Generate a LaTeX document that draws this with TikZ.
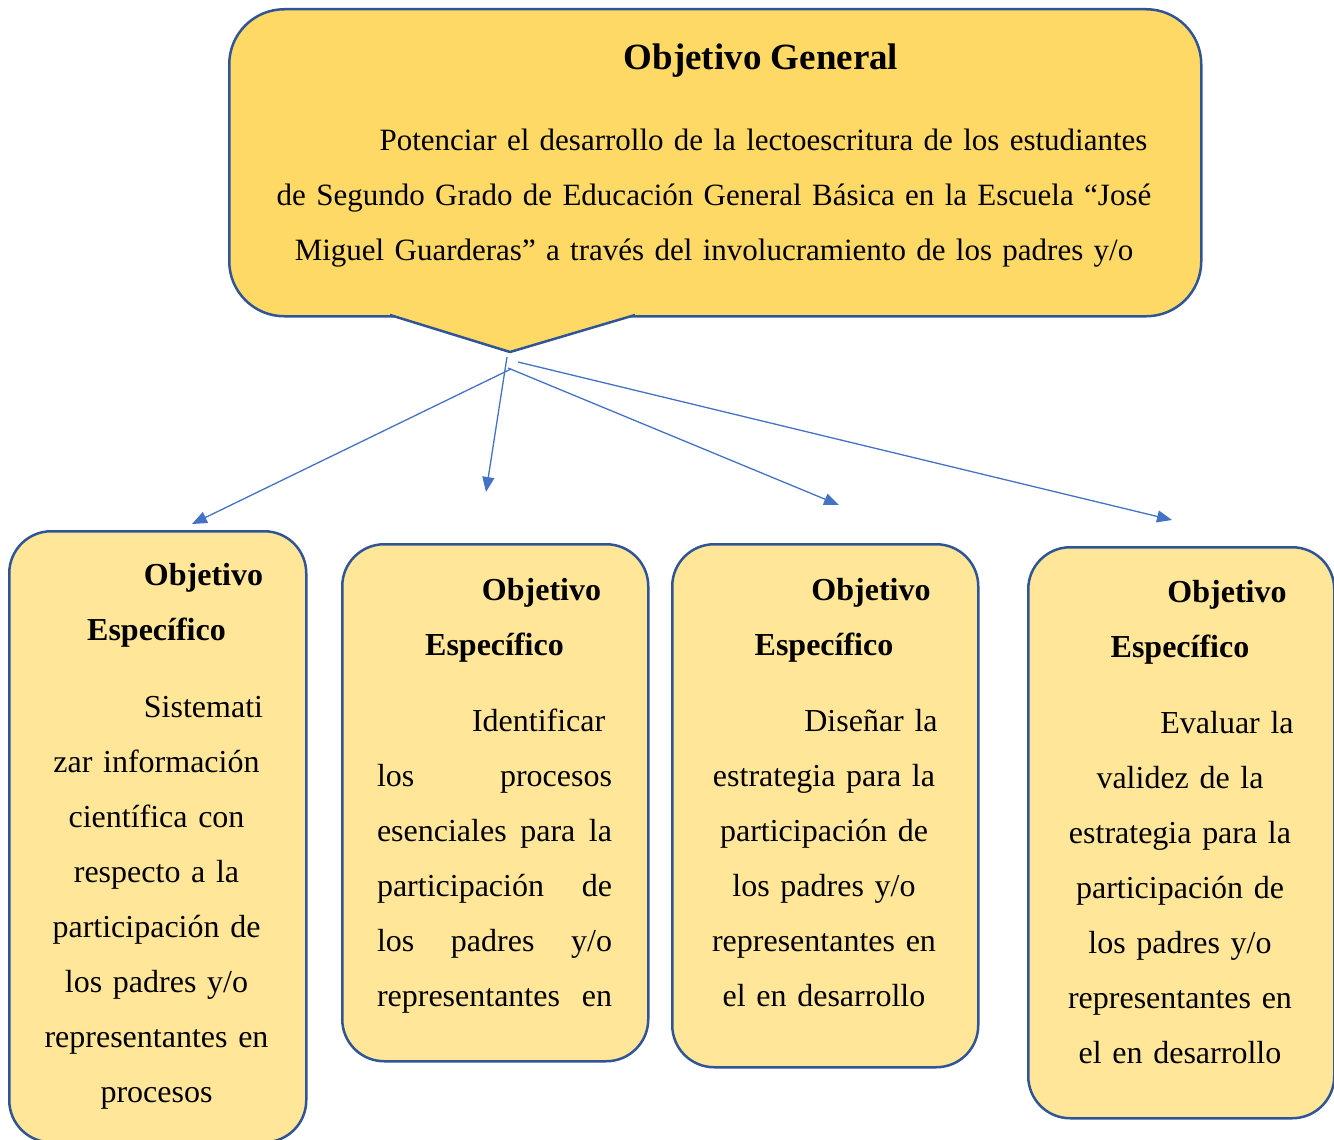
\documentclass[tikz,border=0pt]{standalone}
\usepackage{fontspec}
\setmainfont{Liberation Serif}
\usetikzlibrary{arrows.meta}
\definecolor{goldfill}{HTML}{FFD966}
\definecolor{lightgold}{HTML}{FFE699}
\definecolor{borderblue}{HTML}{2F5597}
\definecolor{arrowblue}{HTML}{4472C4}
\newcommand{\jline}[1]{\leavevmode\hbox to 235pt{#1}}
\begin{document}
\begin{tikzpicture}[x=1pt,y=-1pt,
  callout/.style={draw=borderblue, fill=goldfill, line width=2.5pt, rounded corners=55pt, inner sep=0pt, anchor=north west},
  specbox/.style={draw=borderblue, fill=lightgold, line width=2.5pt, rounded corners=42pt, inner sep=0pt, anchor=north west},
  bodytext/.style={font=\fontsize{32}{55}\selectfont, inner sep=0pt, anchor=base, align=center},
  gentext/.style={font=\fontsize{31}{55}\selectfont, inner sep=0pt, anchor=base, align=center},
  titletext/.style={font=\fontsize{37}{44}\selectfont\bfseries, inner sep=0pt, anchor=base},
  link/.style={draw=arrowblue, line width=1.3pt, -{Triangle[length=15pt,width=12pt]}}
]
\useasboundingbox (0,0) rectangle (1334,1140);

% general objective callout
\node[callout, minimum width=972pt, minimum height=307pt] (gen) at (228,8) {};
\fill[goldfill] (389,312) -- (636,312) -- (636,315) -- (510,352) -- (389,315) -- cycle;
\draw[borderblue, line width=2.5pt, line join=round] (390,315) -- (510,352) -- (635,315);
\node[titletext] (gtitle) at (761,70) {Objetivo General};
\node[gentext, text width=1000pt] (gbody) at (714,150) {\hspace*{99pt}Potenciar el desarrollo de la lectoescritura de los estudiantes\\
de Segundo Grado de Educación General Básica en la Escuela “José\\
Miguel Guarderas” a través del involucramiento de los padres y/o};

% specific objective boxes
\node[specbox, minimum width=297pt, minimum height=611pt] (b1) at (8,530) {};
\node[specbox, minimum width=306pt, minimum height=517pt] (b2) at (341,543) {};
\node[specbox, minimum width=306pt, minimum height=523pt] (b3) at (671,543) {};
\node[specbox, minimum width=306pt, minimum height=571pt] (b4) at (1027,546) {};

\node[bodytext, text width=290pt] (t1) at (156.5,585) {\hspace*{94pt}\textbf{Objetivo}\\
\textbf{Específico}\\[22pt]
\hspace*{94pt}Sistemati\\
zar información\\
científica con\\
respecto a la\\
participación de\\
los padres y/o\\
representantes en\\
procesos};

\node[bodytext, text width=235pt] (t2) at (494.5,600) {\hspace*{94pt}\textbf{Objetivo}\\
\textbf{Específico}\\[21pt]
\jline{\hspace*{95pt}Identificar\hfil}\\
\jline{los\hfill procesos}\\
\jline{esenciales\hfill para\hfill la}\\
\jline{participación\hfill de}\\
\jline{los\hfill padres\hfill y/o}\\
\jline{representantes\hfill en}};

\node[bodytext, text width=290pt] (t3) at (824,600) {\hspace*{94pt}\textbf{Objetivo}\\
\textbf{Específico}\\[21pt]
\hspace*{94pt}Diseñar la\\
estrategia para la\\
participación de\\
los padres y/o\\
representantes en\\
el en desarrollo};

\node[bodytext, text width=290pt] (t4) at (1180,602) {\hspace*{94pt}\textbf{Objetivo}\\
\textbf{Específico}\\[21pt]
\hspace*{94pt}Evaluar la\\
validez de la\\
estrategia para la\\
participación de\\
los padres y/o\\
representantes en\\
el en desarrollo};

% connectors
\coordinate (s1) at (511,369);
\coordinate (e1) at (192,524);
\coordinate (s2) at (507,357);
\coordinate (e2) at (486,492);
\coordinate (s3) at (508,368);
\coordinate (e3) at (839,505);
\coordinate (s4) at (518,362);
\coordinate (e4) at (1172,520);
\draw[link] (s1) -- (e1);
\draw[link] (s2) -- (e2);
\draw[link] (s3) -- (e3);
\draw[link] (s4) -- (e4);
\end{tikzpicture}
\end{document}
